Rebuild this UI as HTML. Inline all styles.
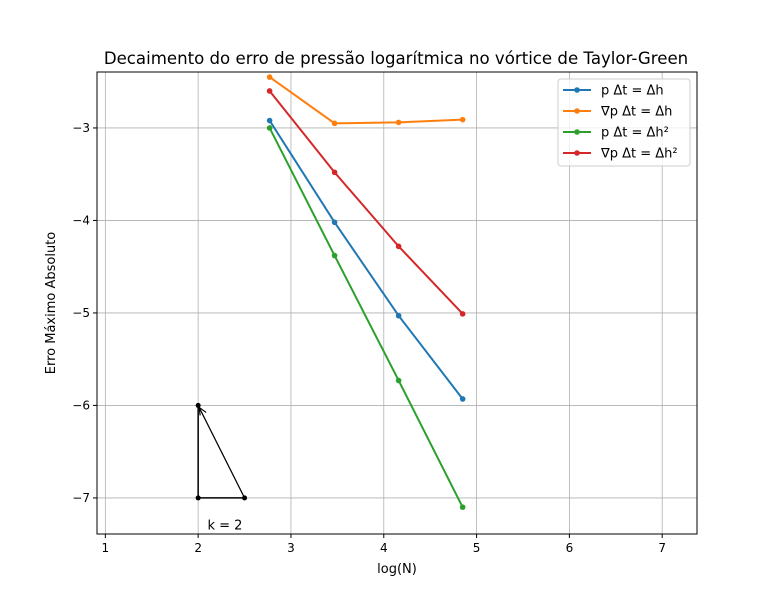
<!DOCTYPE html>
<html><head><meta charset="utf-8"><style>
body{margin:0;background:#fff;font-family:"Liberation Sans","DejaVu Sans",sans-serif}
svg text{font-family:"DejaVu Sans","Liberation Sans",sans-serif}
</style></head><body>
<svg id="c" width="774" height="600"></svg>
<script>
const xs=[2.77,3.47,4.16,4.85];
const seriesBlue=[-2.92,-4.02,-5.03,-5.93];
const seriesOrange=[-2.45,-2.95,-2.94,-2.91];
const seriesGreen=[-3.0,-4.38,-5.73,-7.1];
const seriesRed=[-2.6,-3.48,-4.28,-5.01];
const seriesNames=["p Δt = Δh","∇p Δt = Δh","p Δt = Δh²","∇p Δt = Δh²"];
const xTicks=[1,2,3,4,5,6,7];
const yTicks=[-3,-4,-5,-6,-7];
const triX=[2,2,2.5];
const triY=[-6,-7,-7];
const L=97,R=697,T=72,B=534,x0=0.91,x1=7.375,y0=-7.39,y1=-2.395;
const X=v=>L+(v-x0)/(x1-x0)*(R-L);
const Y=v=>B-(v-y0)/(y1-y0)*(B-T);
const svg=document.getElementById('c');const NS="http://www.w3.org/2000/svg";
function el(t,a,p){const e=document.createElementNS(NS,t);for(const k in a)e.setAttribute(k,a[k]);(p||svg).appendChild(e);return e;}
let e;
e=el('text',{x:396,y:64,'text-anchor':'middle','font-size':16.6});e.textContent="Decaimento do erro de pressão logarítmica no vórtice de Taylor-Green";


xTicks.forEach(t=>{
 e=el('line',{x1:X(t),x2:X(t),y1:T,y2:B,stroke:'#b0b0b0','stroke-width':0.8});
 
 
 el('line',{x1:X(t),x2:X(t),y1:B,y2:B+4,stroke:'#000'});
 e=el('text',{x:X(t),y:B+18,'text-anchor':'middle','font-size':12});e.textContent=t;
 
 
});
yTicks.forEach(t=>{
 e=el('line',{x1:L,x2:R,y1:Y(t),y2:Y(t),stroke:'#b0b0b0','stroke-width':0.8});
 
 
 el('line',{x1:L-4,x2:L,y1:Y(t),y2:Y(t),stroke:'#000'});
 e=el('text',{x:L-7,y:Y(t)+4,'text-anchor':'end','font-size':12});e.textContent="−"+Math.abs(t);
 
 
});
e=el('rect',{x:L,y:T,width:R-L,height:B-T,fill:'none',stroke:'#000','stroke-width':1});


e=el('text',{x:397,y:573,'text-anchor':'middle','font-size':13});e.textContent="log(N)";


e=el('text',{x:55,y:303,'text-anchor':'middle','font-size':13,transform:'rotate(-90 55 303)'});e.textContent="Erro Máximo Absoluto";


const colors=['#1f77b4','#ff7f0e','#2ca02c','#d62728'];
const all=[seriesBlue,seriesOrange,seriesGreen,seriesRed];
all.forEach((s,i)=>{
 e=el('polyline',{points:s.map((v,j)=>X(xs[j])+','+Y(v)).join(' '),fill:'none',stroke:colors[i],'stroke-width':2});
 
 
 s.forEach((v,j)=>{e=el('circle',{cx:X(xs[j]),cy:Y(v),r:2.8,fill:colors[i]});
 
 });
});
e=el('polyline',{points:`${X(triX[0])},${Y(triY[0])} ${X(triX[1])},${Y(triY[1])} ${X(triX[2])},${Y(triY[2])}`,fill:'none',stroke:'#000','stroke-width':1.5});


triX.forEach((v,j)=>{e=el('circle',{cx:X(v),cy:Y(triY[j]),r:2.5,fill:'#000'});
 
 });
e=el('line',{x1:X(triX[2]),y1:Y(triY[2]),x2:X(triX[0])+1,y2:Y(triY[0])+2,stroke:'#000','stroke-width':1.2});


const ax=X(triX[0])+1,ay=Y(triY[0])+2;
el('polyline',{points:`${ax+1},${ay+8} ${ax},${ay} ${ax+7},${ay+5}`,fill:'none',stroke:'#000','stroke-width':1.2});
e=el('text',{x:X(2.1),y:Y(-7.3)+4,'font-size':13});e.textContent="k = 2";


const lg=el('g',{});


el('rect',{x:558,y:79,width:132,height:87,rx:3,fill:'#fff',stroke:'#ccc','fill-opacity':0.8},lg);
seriesNames.forEach((n,i)=>{
 const y=90+i*21;
 const g=el('g',{},lg);
 
 
 el('line',{x1:563,x2:591,y1:y,y2:y,stroke:colors[i],'stroke-width':2},g);
 el('circle',{cx:577,cy:y,r:2.8,fill:colors[i]},g);
 const t=el('text',{x:601,y:y+4.5,'font-size':13},g);t.textContent=n;
});
</script>
</body></html>
